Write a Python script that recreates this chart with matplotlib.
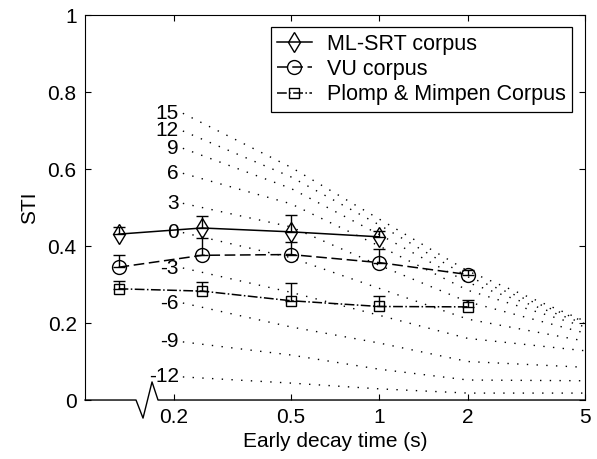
import matplotlib
matplotlib.use('Agg')
import matplotlib.pyplot as plt

plt.rcParams['font.family'] = ['Liberation Sans', 'DejaVu Sans']

# Measured corpora (early decay time in s, STI, upper error)
edt = [0.13, 0.25, 0.5, 1, 2]
ml_srt = [0.431, 0.447, 0.437, 0.424]
ml_srt_err = [0.018, 0.031, 0.043, 0.016]
vu = [0.345, 0.376, 0.378, 0.357, 0.326]
vu_err = [0.032, 0.045, 0.032, 0.035, 0.012]
plomp = [0.289, 0.283, 0.258, 0.243, 0.242]
plomp_err = [0.020, 0.023, 0.046, 0.027, 0.018]

# Predicted STI for different S/N ratios (dotted lines)
grid_edt = [0.215, 0.5, 1, 2, 5]
snr_labels = ['15', '12', '9', '6', '3', '0', '-3', '-6', '-9', '-12']
snr_sti = [
    [0.745, 0.605, 0.470, 0.335, 0.205],
    [0.699, 0.580, 0.455, 0.320, 0.203],
    [0.654, 0.550, 0.430, 0.305, 0.198],
    [0.589, 0.510, 0.400, 0.285, 0.190],
    [0.511, 0.450, 0.350, 0.255, 0.174],
    [0.435, 0.370, 0.290, 0.210, 0.153],
    [0.343, 0.280, 0.220, 0.160, 0.128],
    [0.252, 0.190, 0.148, 0.100, 0.085],
    [0.151, 0.117, 0.080, 0.052, 0.050],
    [0.060, 0.044, 0.029, 0.018, 0.018],
]

xticks = [0.2, 0.5, 1, 2, 5]
yticks = [0, 0.2, 0.4, 0.6, 0.8, 1]

fs = 15

fig = plt.figure(figsize=(5.97, 4.59), dpi=100)
ax = fig.add_axes([0.1424, 0.1285, 0.8376, 0.8385])

for lab, vals in zip(snr_labels, snr_sti):
    ax.plot(grid_edt, vals, color='black', linestyle=(0, (1, 6)), linewidth=1.0)
    ax.text(0.208, vals[0], lab, ha='right', va='center', fontsize=fs)

series = [
    (edt[:4], ml_srt, ml_srt_err, '-', 'd', 10.5, 'ML-SRT corpus'),
    (edt, vu, vu_err, '--', 'o', 10, 'VU corpus'),
    (edt, plomp, plomp_err, '-.', 's', 7.5, 'Plomp & Mimpen Corpus'),
]
for x, y, err, ls, mk, ms, lab in series:
    ax.errorbar(x, y, yerr=[[0] * len(err), err], fmt='none', ecolor='black',
                capsize=4, elinewidth=1.0, capthick=1.0)
    line, = ax.plot(x, y, color='black', linestyle=ls, marker=mk, markersize=ms,
                    markerfacecolor='none', markeredgecolor='black', linewidth=1.1,
                    label=lab)
    if ls == '--':
        line.set_dashes((7, 3))

ax.set_xscale('log')
ax.set_xlim(0.1, 5)
ax.set_ylim(0, 1)
ax.set_xticks(xticks)
ax.set_xticklabels(['0.2', '0.5', '1', '2', '5'])
ax.minorticks_off()
ax.set_yticks(yticks)
ax.set_yticklabels(['0', '0.2', '0.4', '0.6', '0.8', '1'])
ax.tick_params(direction='in', top=True, right=True, labelsize=fs, length=4, pad=6)
ax.set_xlabel('Early decay time (s)', fontsize=fs, labelpad=3)
ax.set_ylabel('STI', fontsize=fs, labelpad=6)

# bottom axis with a break mark
ax.spines['bottom'].set_visible(False)
bx = [0, 0.102, 0.116, 0.134, 0.146, 1]
by = [0, 0, -0.047, 0.047, 0, 0]
ax.plot(bx, by, transform=ax.transAxes, color='black', linewidth=1.0, clip_on=False)

leg = ax.legend(loc='upper right', bbox_to_anchor=(0.974, 0.969), borderaxespad=0,
                fontsize=15.5, fancybox=False, edgecolor='black', framealpha=1,
                handlelength=1.6, labelspacing=0.2, borderpad=0.3, handletextpad=0.7)
leg.get_frame().set_linewidth(0.9)

fig.savefig('out.png', dpi=100)
